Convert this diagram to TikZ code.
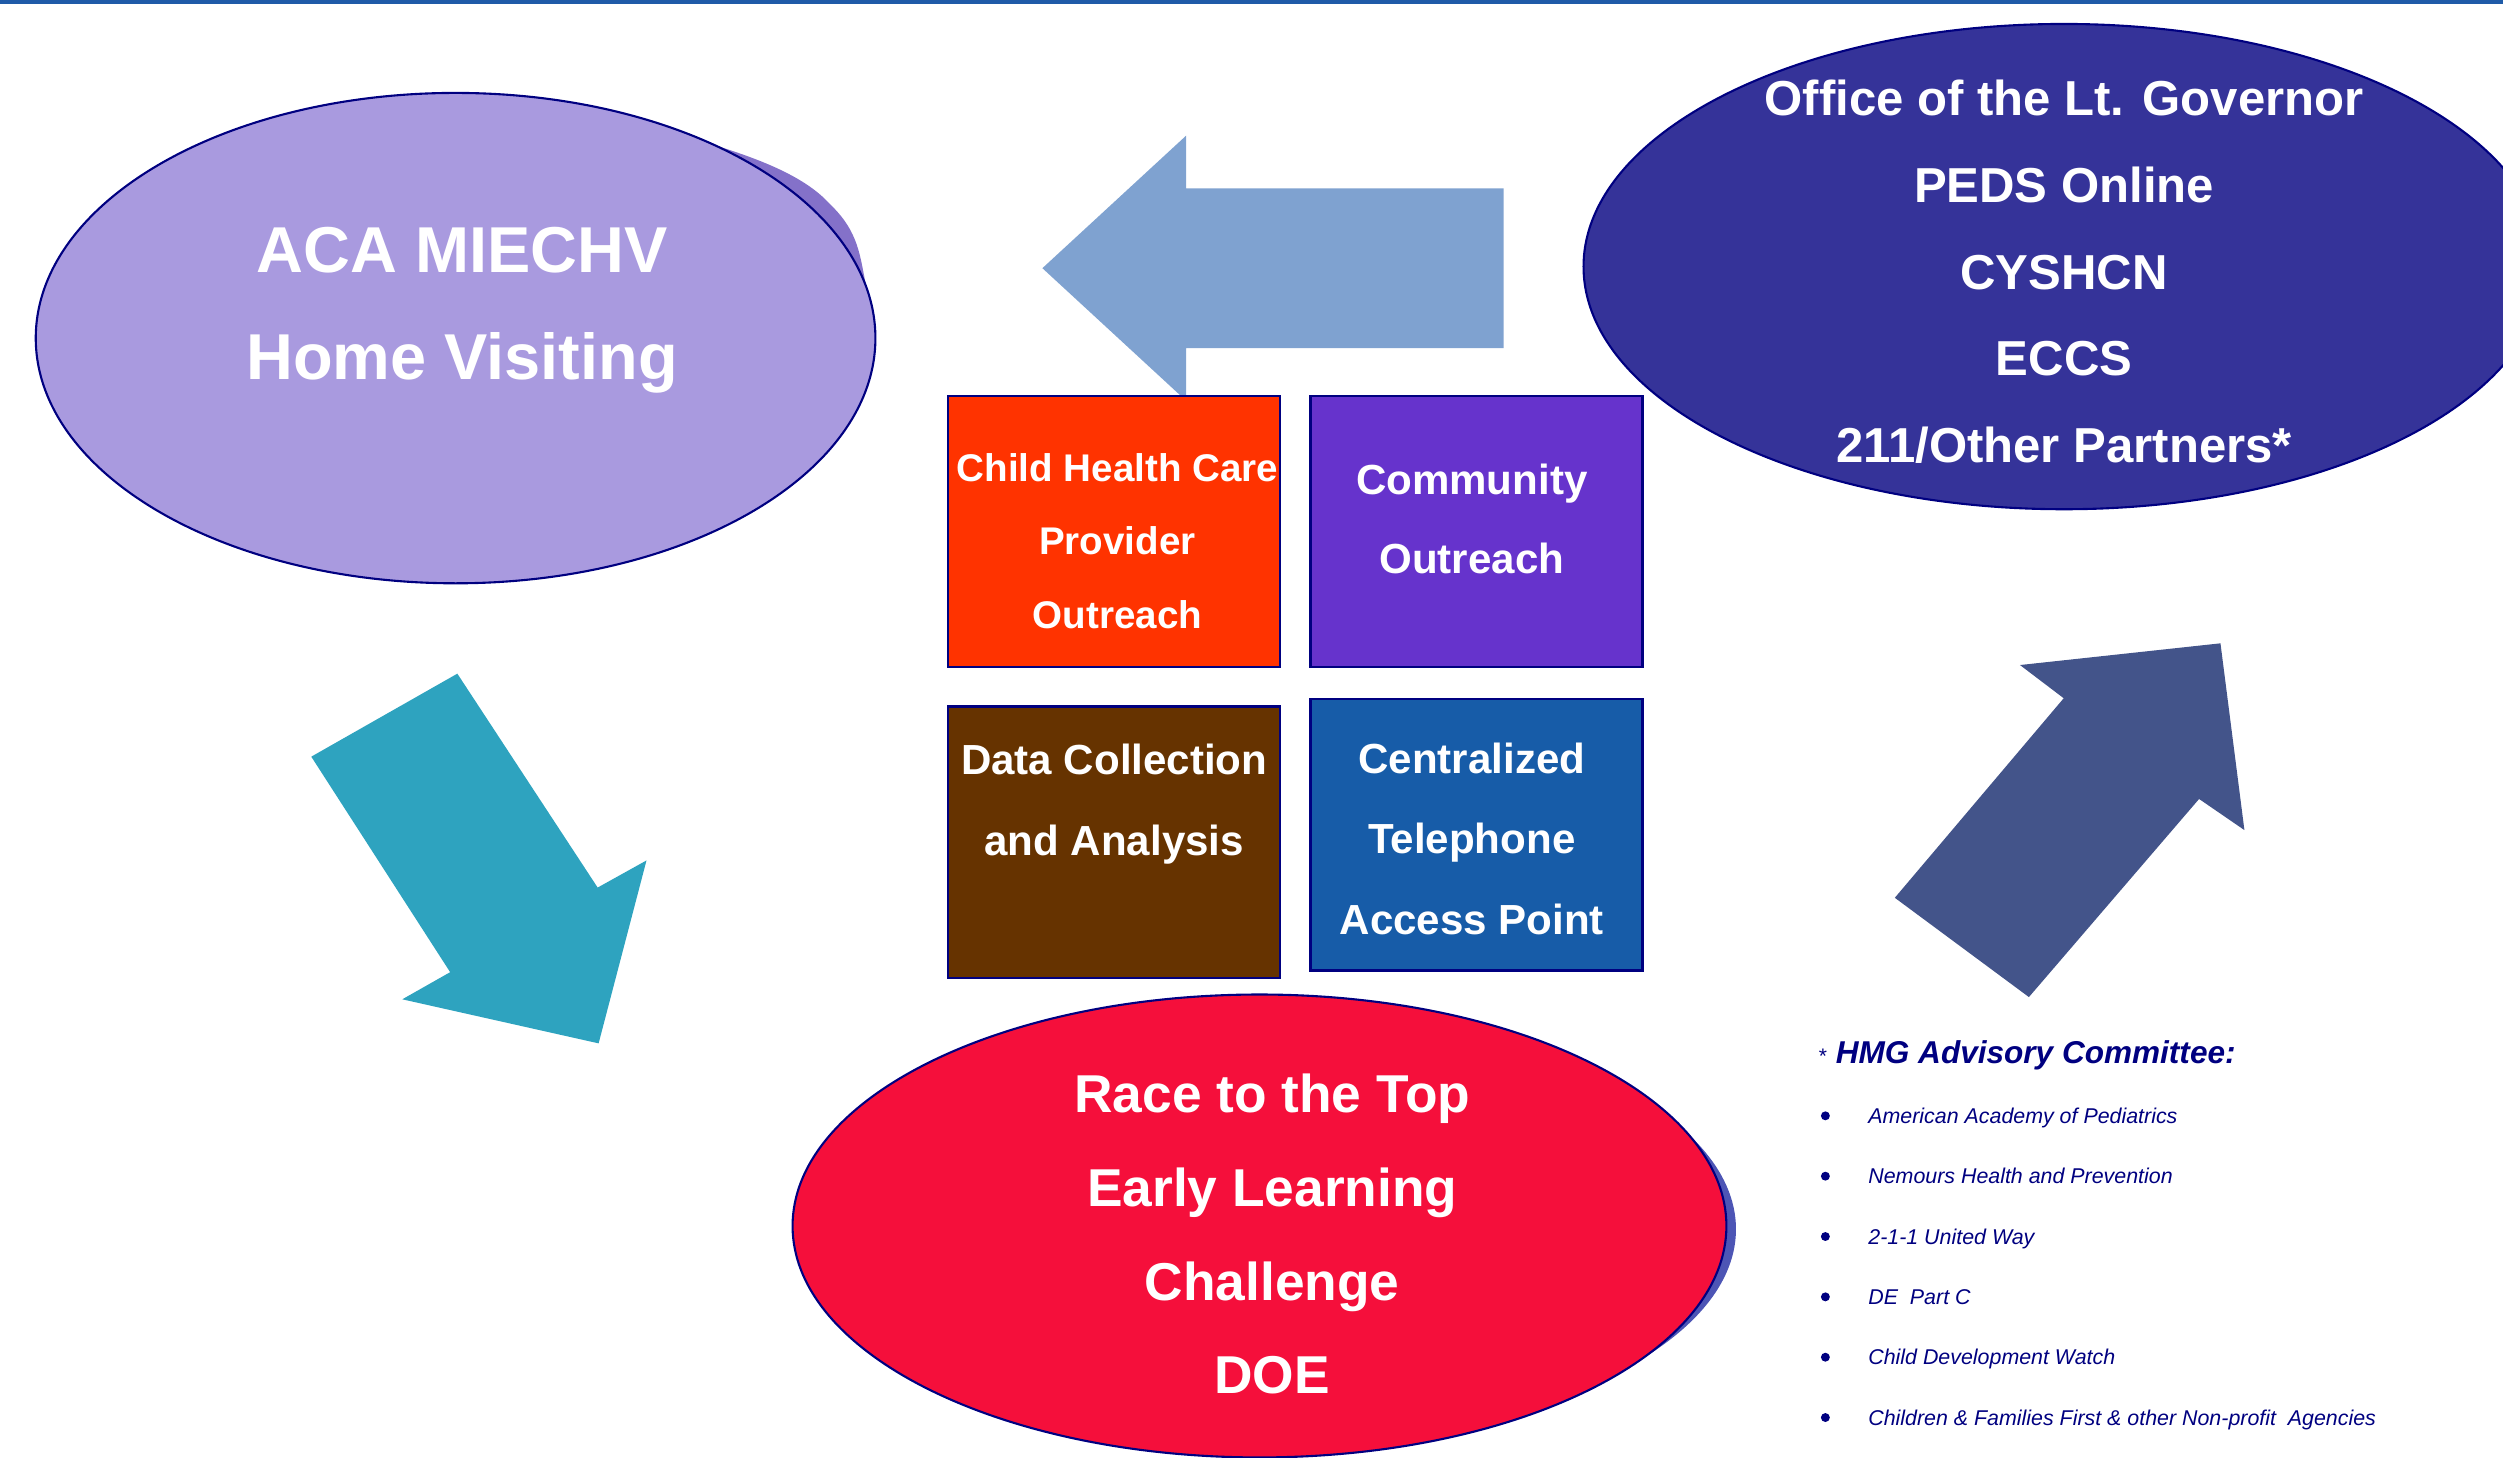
\documentclass[tikz,border=0pt]{standalone}
\usepackage{fontspec}
\setmainfont{Liberation Sans}
\usetikzlibrary{shapes.geometric}

\definecolor{topline}{HTML}{1F5BA8}
\definecolor{navy}{HTML}{000080}
\definecolor{lavender}{HTML}{A99ADF}
\definecolor{lavshadow}{HTML}{8471C9}
\definecolor{govblue}{HTML}{353399}
\definecolor{rttred}{HTML}{F50F3B}
\definecolor{rttshadow}{HTML}{4D55B5}
\definecolor{chcorange}{HTML}{FF3300}
\definecolor{commpurple}{HTML}{6633CC}
\definecolor{databrown}{HTML}{663300}
\definecolor{phoneblue}{HTML}{175CA8}
\definecolor{arrowteal}{HTML}{2EA3BF}
\definecolor{arrowsky}{HTML}{7FA2D0}
\definecolor{arrowslate}{HTML}{43548A}

\begin{document}
\begin{tikzpicture}[x=0.16mm,y=-0.16mm,
    bubble/.style={ellipse,draw=navy,line width=0.6pt,inner sep=0pt},
    card/.style={rectangle,draw=navy,line width=0.7pt,inner sep=0pt,minimum width=208*0.16mm,minimum height=170*0.16mm},
    whitetext/.style={text=white,align=center,inner sep=0pt},
    legend/.style={text=navy,anchor=base west,inner sep=0pt}]
    \useasboundingbox (0,0) rectangle (1568,913);
    \clip (0,0) rectangle (1568,913);
    \fill[topline] (0,0) rectangle (1568,2.2);

    % block arrows
    \fill[arrowsky] (942,118) -- (743,118) -- (743,85) -- (653,168) -- (743,251) -- (743,218) -- (942,218) -- cycle;
    \fill[arrowteal] (195,474) -- (286.5,422) -- (374.4,556) -- (405,539) -- (375,653.6) -- (252,626) -- (282,609) -- cycle;
    \fill[arrowslate] (1187,562.4) -- (1292.8,437.4) -- (1265.4,416.6) -- (1391,403) -- (1406,520) -- (1377.6,500.5) -- (1271,624.6) -- cycle;

    % shadows
    \fill[lavshadow] (447.3,90.8) .. controls (471,98.3) and (503.4,109.2) .. (520,128)
        .. controls (538,145) and (538.7,160.3) .. (542.7,179.9) -- (285.4,211.8) -- cycle;
    \fill[rttshadow] (795,770) ellipse [x radius=292.5, y radius=135];

    % ellipses
    \node[bubble, fill=lavender, minimum width=526*0.16mm, minimum height=307.2*0.16mm] (aca) at (285.4,211.8) {};
    \node[bubble, fill=govblue, minimum width=602*0.16mm, minimum height=304*0.16mm] (gov) at (1293,167) {};
    \node[bubble, fill=rttred, minimum width=585*0.16mm, minimum height=290*0.16mm] (rtt) at (789,768) {};

    \node[whitetext, font=\bfseries\fontsize{18.5}{30.7}\selectfont] (acatext) at (289.5,194.3) {ACA MIECHV\\Home Visiting};
    \node[whitetext, font=\bfseries\fontsize{14}{24.7}\selectfont] (govtext) at (1293,170.3) {Office of the Lt. Governor\\PEDS Online\\CYSHCN\\ECCS\\211/Other Partners*};
    \node[whitetext, font=\bfseries\fontsize{15.2}{26.8}\selectfont] (rtttext) at (797,773) {Race to the Top\\Early Learning\\Challenge\\DOE};

    % boxes
    \node[card, fill=chcorange] (chc) at (698,333) {};
    \node[card, fill=commpurple] (comm) at (925,333) {};
    \node[card, fill=databrown] (data) at (698,527.5) {};
    \node[card, fill=phoneblue] (phone) at (925,523) {};

    \node[whitetext, font=\bfseries\fontsize{11}{20.9}\selectfont] (chctext) at (700,339) {Child Health Care\\Provider\\Outreach};
    \node[whitetext, font=\bfseries\fontsize{12}{22.7}\selectfont] (commtext) at (922,325) {Community\\Outreach};
    \node[whitetext, font=\bfseries\fontsize{12}{23.1}\selectfont] (datatext) at (698,504) {Data Collection\\and Analysis};
    \node[whitetext, font=\bfseries\fontsize{12}{22.9}\selectfont] (phonetext) at (922,525.5) {Centralized\\Telephone\\Access Point};

    % advisory committee
    \node[legend, font=\fontsize{9}{11}\selectfont] (hmg) at (1139,666) {{\fontsize{6}{7}\selectfont *} \textbf{\textit{HMG Advisory Committee:}}};
    \foreach \txt [count=\i] in {American Academy of Pediatrics, Nemours Health and Prevention, 2-1-1 United Way, DE~ Part C, Child Development Watch, Children \& Families First \& other Non-profit~ Agencies} {
        \fill[navy] (1143.5,661.2+37.8*\i) circle [radius=2.8];
        \node[legend, font=\itshape\fontsize{6.1}{7}\selectfont] (member\i) at (1170,666+37.8*\i) {\txt};
    }
\end{tikzpicture}
\end{document}
